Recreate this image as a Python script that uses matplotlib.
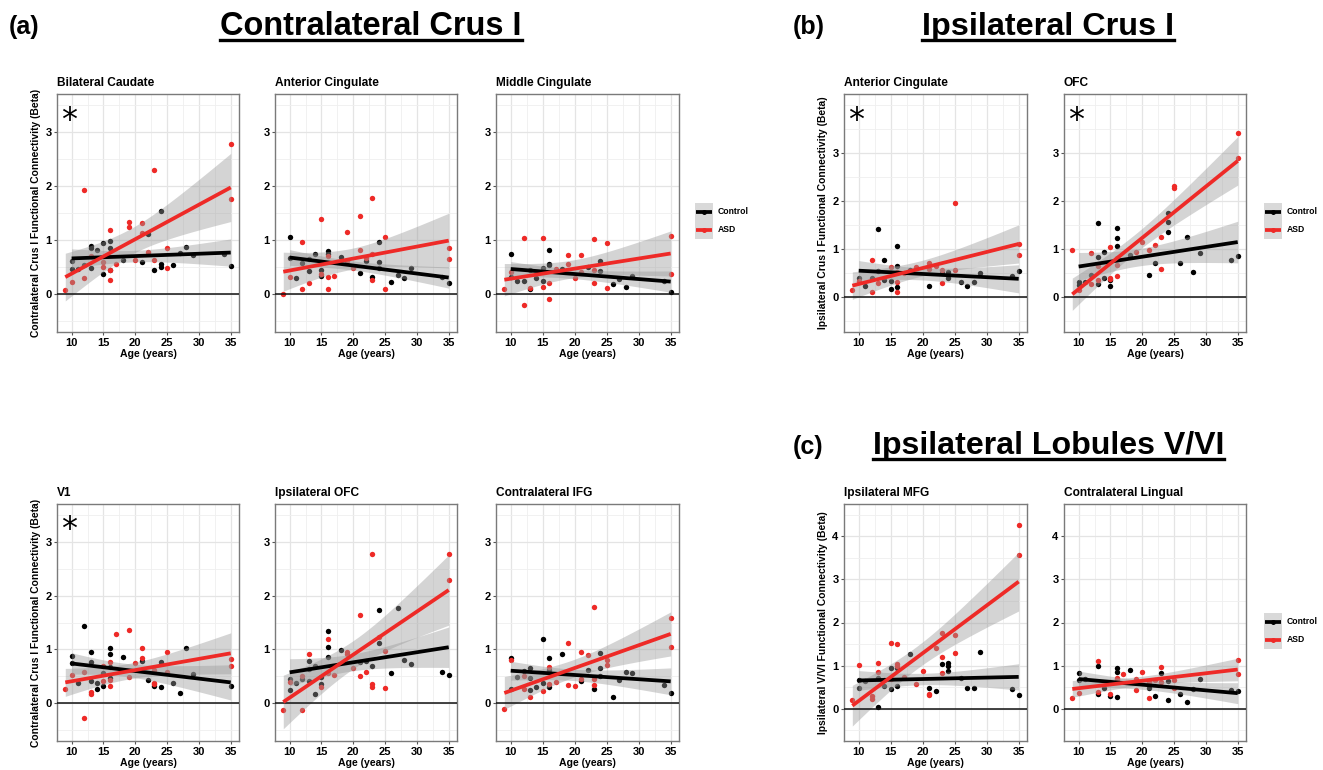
import numpy as np
import matplotlib
matplotlib.use("Agg")
import matplotlib.pyplot as plt
from matplotlib.ticker import MultipleLocator
from matplotlib.lines import Line2D
from matplotlib.patches import Rectangle

plt.rcParams['font.family'] = ['Liberation Sans', 'DejaVu Sans']

# ---------------- data (age in years, beta) ----------------
# (a) Contralateral Crus I
CAUDATE_CTRL_AGE = [10,10,11,12,13,13,13,14,15,15,16,16,16,18,21,22,23,24,24,24,26,27,28,29,34,35]
CAUDATE_CTRL_FC = [0.62,0.47,0.46,0.53,0.89,0.85,0.48,0.81,0.95,0.38,0.98,0.85,0.44,0.64,0.59,1.11,0.45,1.53,0.56,0.50,0.54,0.76,0.88,0.72,0.74,0.52]
CAUDATE_ASD_AGE = [9,10,12,12,13,15,15,16,16,16,17,19,19,20,21,21,22,23,23,25,25,35,35]
CAUDATE_ASD_FC = [0.07,0.22,1.93,0.30,0.70,0.60,0.51,1.19,0.45,0.26,0.55,1.34,1.24,0.64,1.32,1.13,0.77,2.30,0.64,0.85,0.49,2.78,1.75]

ACC_A_CTRL_AGE = [10,10,11,12,13,13,14,15,15,16,16,18,21,22,23,24,24,24,26,27,28,29,34,35]
ACC_A_CTRL_FC = [1.05,0.66,0.30,0.58,0.65,0.43,0.75,0.45,0.34,0.79,0.75,0.68,0.39,0.61,0.31,0.96,0.59,0.49,0.23,0.36,0.30,0.49,0.32,0.21]
ACC_A_ASD_AGE = [9,10,12,12,13,15,15,16,16,16,17,19,19,20,21,21,22,23,23,23,25,25,35,35]
ACC_A_ASD_FC = [0.00,0.32,0.96,0.09,0.20,1.38,0.38,0.32,0.10,0.70,0.34,1.15,0.62,0.49,1.45,0.81,0.66,1.77,0.26,0.74,1.05,0.09,0.86,0.65]

MCC_CTRL_AGE = [10,10,11,12,13,13,14,15,15,16,16,16,18,22,24,24,26,27,28,29,34,35]
MCC_CTRL_FC = [0.75,0.32,0.25,0.25,0.45,0.09,0.30,0.48,0.25,0.82,0.56,0.53,0.46,0.51,0.61,0.43,0.19,0.28,0.14,0.33,0.25,0.04]
MCC_ASD_AGE = [9,10,12,12,13,15,15,16,16,17,19,19,20,21,21,23,23,23,25,25,35,35]
MCC_ASD_FC = [0.10,0.41,1.03,-0.20,0.11,1.03,0.14,0.20,-0.09,0.47,0.72,0.56,0.30,0.72,0.41,1.02,0.44,0.20,0.95,0.12,1.07,0.37]

V1_CTRL_AGE = [10,10,11,12,13,13,13,14,14,15,15,16,16,16,16,18,21,22,23,24,24,26,27,28,29,35]
V1_CTRL_FC = [0.88,0.75,0.37,1.44,0.95,0.76,0.42,0.27,0.37,0.33,0.56,1.03,0.91,0.68,0.47,0.86,0.78,0.43,0.33,0.30,0.77,0.37,0.20,1.03,0.54,0.32]
V1_ASD_AGE = [9,10,12,12,13,13,15,15,16,16,16,17,19,19,20,21,21,23,23,23,25,25,35,35]
V1_ASD_FC = [0.26,0.52,0.58,-0.28,0.21,0.18,0.70,0.41,0.77,0.43,0.32,1.29,1.36,0.48,0.74,1.02,0.84,0.38,0.35,0.62,0.95,0.59,0.83,0.69]

IOFC_CTRL_AGE = [10,10,11,12,13,13,13,14,14,15,15,16,16,16,18,21,22,23,24,24,26,27,28,29,34,35]
IOFC_CTRL_FC = [0.45,0.25,0.37,0.46,0.78,0.63,0.42,0.70,0.17,0.48,0.36,1.34,1.05,0.86,0.99,0.77,0.79,0.70,1.74,1.12,0.57,1.76,0.80,0.73,0.59,0.52]
IOFC_ASD_AGE = [9,10,12,12,13,15,16,16,17,19,19,20,21,21,22,23,23,23,24,25,25,35,35]
IOFC_ASD_FC = [-0.12,0.40,-0.12,0.51,0.91,0.30,1.19,0.56,0.53,0.95,0.91,0.65,1.63,0.51,0.58,2.77,0.35,0.31,1.23,0.98,0.29,2.77,2.29]

IFG_CTRL_AGE = [10,10,11,12,13,13,13,14,15,15,16,16,16,18,21,22,23,24,24,24,26,27,28,29,34,35]
IFG_CTRL_FC = [0.85,0.27,0.48,0.60,0.66,0.47,0.24,0.30,1.20,0.38,0.85,0.61,0.30,0.91,0.42,0.61,0.27,0.94,0.66,0.51,0.12,0.43,0.58,0.56,0.34,0.20]
IFG_ASD_AGE = [9,10,12,12,13,15,16,16,17,19,19,20,21,21,22,23,23,23,25,25,35,35]
IFG_ASD_FC = [-0.10,0.81,0.50,0.26,0.12,0.22,0.68,0.35,0.39,1.12,0.34,0.32,0.95,0.45,0.90,1.78,0.45,0.34,0.81,0.72,1.59,1.04]

# (b) Ipsilateral Crus I
ACC_B_CTRL_AGE = [10,11,12,13,13,14,14,15,15,16,16,16,18,21,23,24,24,26,27,28,29,34,35]
ACC_B_CTRL_FC = [0.40,0.24,0.40,1.42,0.55,0.77,0.36,0.34,0.17,1.07,0.64,0.22,0.57,0.23,0.50,0.52,0.40,0.31,0.23,0.31,0.50,0.45,0.54]
ACC_B_ASD_AGE = [9,10,12,12,13,15,16,16,16,17,19,21,21,22,23,23,25,25,35,35]
ACC_B_ASD_FC = [0.14,0.33,0.77,0.10,0.30,0.63,0.31,0.10,0.52,0.50,0.63,0.71,0.58,0.65,0.56,0.30,1.95,0.57,1.10,0.87]

OFC_B_CTRL_AGE = [10,10,11,12,13,13,13,14,14,15,15,16,16,16,18,21,22,24,24,24,26,27,28,29,34,35]
OFC_B_CTRL_FC = [0.31,0.26,0.31,0.47,1.55,0.84,0.28,0.93,0.39,0.36,0.24,1.44,1.24,1.06,0.88,0.47,0.70,1.76,1.57,1.35,0.71,1.26,0.52,0.91,0.78,0.85]
OFC_B_ASD_AGE = [9,10,12,12,13,13,15,15,15,16,16,16,19,20,21,22,23,23,25,25,35,35]
OFC_B_ASD_FC = [0.98,0.15,0.92,0.28,0.64,0.36,1.05,0.40,0.37,0.43,0.67,0.81,0.93,1.14,0.99,1.08,1.25,0.59,2.32,2.27,3.41,2.90]

# (c) Ipsilateral Lobules V/VI
MFG_CTRL_AGE = [10,10,11,13,13,14,14,15,15,16,16,18,21,22,23,24,24,24,26,27,28,29,34,35]
MFG_CTRL_FC = [0.66,0.47,0.65,0.72,0.05,0.66,0.53,0.95,0.46,0.95,0.52,1.27,0.49,0.42,1.03,1.05,1.00,0.87,0.72,0.49,0.49,1.31,0.45,0.32]
MFG_ASD_AGE = [9,10,12,12,13,13,15,15,16,16,16,17,19,20,21,21,22,23,23,23,25,25,35,35]
MFG_ASD_FC = [0.19,1.01,0.29,0.22,1.07,0.86,1.53,0.68,1.50,1.04,0.99,0.73,0.57,0.88,0.35,0.32,1.41,1.76,1.19,0.83,1.71,1.29,4.26,3.57]

LING_CTRL_AGE = [10,10,11,13,13,14,15,16,16,16,18,21,22,23,24,24,26,27,28,29,34,35]
LING_CTRL_FC = [0.82,0.66,0.70,0.99,0.35,0.49,0.29,0.94,0.85,0.26,0.90,0.49,0.29,0.82,0.65,0.21,0.34,0.15,0.46,0.68,0.43,0.41]
LING_ASD_AGE = [9,10,13,13,15,15,16,16,17,19,19,20,21,21,22,23,23,25,25,35,35]
LING_ASD_FC = [0.25,0.36,1.10,0.39,0.35,0.63,0.72,0.68,0.80,0.43,0.68,0.86,0.25,0.63,0.66,0.97,0.63,0.66,0.49,1.13,0.81]

GROUPS = ["Control", "ASD"]
X_TICKS = [10, 15, 20, 25, 30, 35]

# ---------------- styling ----------------
W, H = 1323, 770
DPI = 100
C_CTRL = "#000000"
C_ASD = "#EE2A27"
RIB = "#999999"

fig = plt.figure(figsize=(W / DPI, H / DPI), dpi=DPI)
fig.patch.set_facecolor("white")


def px_axes(l, t, r, b):
    return fig.add_axes([l / W, 1 - b / H, (r - l) / W, (b - t) / H])


def tq975(df):
    z = 1.959964
    return z + (z**3 + z) / (4 * df) + (5 * z**5 + 16 * z**3 + 3 * z) / (96 * df**2)


def lm_band(x, y):
    x = np.asarray(x, float)
    y = np.asarray(y, float)
    n = len(x)
    b1, b0 = np.polyfit(x, y, 1)
    res = y - (b0 + b1 * x)
    s = np.sqrt(np.sum(res**2) / (n - 2))
    xb = x.mean()
    sxx = np.sum((x - xb) ** 2)
    xs = np.linspace(x.min(), x.max(), 80)
    fit = b0 + b1 * xs
    se = s * np.sqrt(1 / n + (xs - xb) ** 2 / sxx)
    t = tq975(n - 2)
    return xs, fit, fit - t * se, fit + t * se


def panel(rect, title, ca, cf, aa, af, ylim, yticks, ylabel=None, star=False):
    ax = px_axes(*rect)
    ax.set_xlim(7.7, 36.3)
    ax.set_ylim(*ylim)
    ax.xaxis.set_minor_locator(MultipleLocator(2.5))
    ax.yaxis.set_minor_locator(MultipleLocator(0.5))
    ax.set_xticks(X_TICKS)
    ax.set_yticks(yticks)
    ax.grid(which="major", color="#e4e4e4", lw=0.9, zorder=0)
    ax.grid(which="minor", color="#efefef", lw=0.6, zorder=0)
    ax.set_axisbelow(True)
    for sp in ax.spines.values():
        sp.set_color("#7a7a7a")
        sp.set_linewidth(1.0)
    ax.tick_params(which="major", length=2.5, width=0.8, color="#555555",
                   labelsize=8.0, pad=1.5, labelcolor="black")
    ax.tick_params(which="minor", length=0)
    for lab in ax.get_xticklabels() + ax.get_yticklabels():
        lab.set_fontweight("bold")
    ax.set_xlabel("Age (years)", fontsize=7.6, fontweight="bold", labelpad=1.0)
    if ylabel:
        ax.set_ylabel(ylabel, fontsize=7.4, fontweight="bold", labelpad=3)
    ax.set_title(title, loc="left", fontsize=8.6, fontweight="bold", pad=6)

    for x, y, col in ((ca, cf, C_CTRL), (aa, af, C_ASD)):
        ax.scatter(x, y, s=15, color=col, linewidths=0, zorder=2)
    for x, y, col in ((ca, cf, C_CTRL), (aa, af, C_ASD)):
        xs, fit, lo, hi = lm_band(x, y)
        ax.fill_between(xs, lo, hi, color=RIB, alpha=0.42, lw=0, zorder=3)
    ax.axhline(0, color="#111111", lw=1.1, zorder=3.5)
    for x, y, col in ((ca, cf, C_CTRL), (aa, af, C_ASD)):
        xs, fit, lo, hi = lm_band(x, y)
        ax.plot(xs, fit, color=col, lw=2.7, solid_capstyle="butt", zorder=4)
    if star:
        ax.text(0.066, 0.855, "*", transform=ax.transAxes, ha="center",
                va="baseline", fontsize=23, family="DejaVu Sans", zorder=5)
    return ax


def legend(l, t):
    ax = px_axes(l, t, l + 18, t + 36)
    ax.set_xlim(0, 1)
    ax.set_ylim(0, 2)
    ax.axis("off")
    for i, (g, col) in enumerate(zip(GROUPS, (C_CTRL, C_ASD))):
        yc = 1.5 - i
        ax.add_patch(Rectangle((0, yc - 0.5), 1, 1, facecolor="#d9d9d9", edgecolor="none"))
        ax.plot([0.08, 0.92], [yc, yc], color=col, lw=2.7, solid_capstyle="butt")
        ax.plot([0.5], [yc], "o", color=col, ms=3.6, mew=0)
        fig.text((l + 23) / W, 1 - (t + 9 + 18 * i) / H, g, ha="left", va="center",
                 fontsize=6.2, fontweight="bold")


YA = (-0.7, 3.7)
YB = (-0.725, 4.225)
YC = (-0.75, 4.75)
TA = [0, 1, 2, 3]
TC = [0, 1, 2, 3, 4]
LAB_A = "Contralateral Crus I Functional Connectivity (Beta)"
LAB_B = "Ipsilateral Crus I Functional Connectivity (Beta)"
LAB_C = "Ipsilateral V/VI Functional Connectivity (Beta)"

panel((57, 94, 239, 332), "Bilateral Caudate", CAUDATE_CTRL_AGE, CAUDATE_CTRL_FC,
      CAUDATE_ASD_AGE, CAUDATE_ASD_FC, YA, TA, LAB_A, star=True)
panel((275, 94, 457, 332), "Anterior Cingulate", ACC_A_CTRL_AGE, ACC_A_CTRL_FC,
      ACC_A_ASD_AGE, ACC_A_ASD_FC, YA, TA)
panel((496, 94, 679, 332), "Middle Cingulate", MCC_CTRL_AGE, MCC_CTRL_FC,
      MCC_ASD_AGE, MCC_ASD_FC, YA, TA)
panel((57, 504, 239, 741), "V1", V1_CTRL_AGE, V1_CTRL_FC,
      V1_ASD_AGE, V1_ASD_FC, YA, TA, LAB_A, star=True)
panel((275, 504, 457, 741), "Ipsilateral OFC", IOFC_CTRL_AGE, IOFC_CTRL_FC,
      IOFC_ASD_AGE, IOFC_ASD_FC, YA, TA)
panel((496, 504, 679, 741), "Contralateral IFG", IFG_CTRL_AGE, IFG_CTRL_FC,
      IFG_ASD_AGE, IFG_ASD_FC, YA, TA)
panel((844, 94, 1027, 332), "Anterior Cingulate", ACC_B_CTRL_AGE, ACC_B_CTRL_FC,
      ACC_B_ASD_AGE, ACC_B_ASD_FC, YB, TA, LAB_B, star=True)
panel((1064, 94, 1246, 332), "OFC", OFC_B_CTRL_AGE, OFC_B_CTRL_FC,
      OFC_B_ASD_AGE, OFC_B_ASD_FC, YB, TA, star=True)
panel((844, 504, 1027, 741), "Ipsilateral MFG", MFG_CTRL_AGE, MFG_CTRL_FC,
      MFG_ASD_AGE, MFG_ASD_FC, YC, TC, LAB_C)
panel((1064, 504, 1246, 741), "Contralateral Lingual", LING_CTRL_AGE, LING_CTRL_FC,
      LING_ASD_AGE, LING_ASD_FC, YC, TC)

legend(695, 203)
legend(1264, 203)
legend(1264, 613)

# ---------------- section headings ----------------
renderer = fig.canvas.get_renderer()


def heading(x0, x1, baseline, s):
    t = fig.text((x0 + x1) / 2 / W, 1 - baseline / H, s, ha="center", va="baseline",
                 fontsize=23, fontweight="bold")
    bb = t.get_window_extent(renderer)
    t.set_fontsize(23 * (x1 - x0) / bb.width)
    bb = t.get_window_extent(renderer)
    yl = 1 - (baseline + 5) / H
    fig.add_artist(Line2D([bb.x0 / W, bb.x1 / W], [yl, yl], color="black", lw=2.4,
                          transform=fig.transFigure))


heading(220, 522, 35, "Contralateral Crus I")
heading(922, 1174, 35, "Ipsilateral Crus I")
heading(872, 1225, 454, "Ipsilateral Lobules V/VI")

for x, yb, s in ((9, 34, "(a)"), (793, 34, "(b)"), (793, 454, "(c)")):
    fig.text(x / W, 1 - yb / H, s, ha="left", va="baseline", fontsize=18, fontweight="bold")

fig.savefig("out.png", dpi=DPI, facecolor="white")
